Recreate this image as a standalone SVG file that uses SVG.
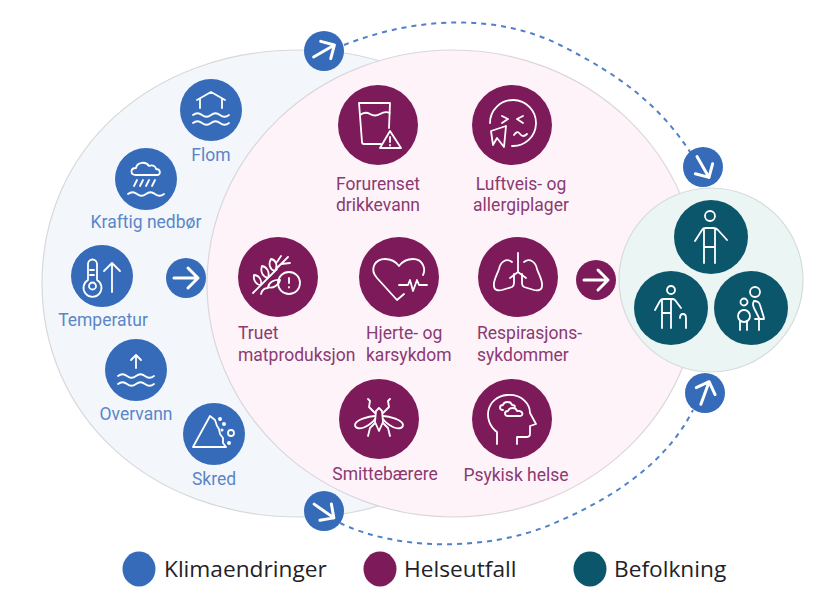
<svg xmlns="http://www.w3.org/2000/svg" width="840" height="600" viewBox="0 0 840 600">
<style>
text{font-family:Roboto,"Liberation Sans",sans-serif}
.lb{font-size:17.500px;fill:#5a86c9;text-anchor:middle}
.lp{font-size:17.500px;fill:#8b3a72}
.m{text-anchor:middle}
.lg{font-size:22.700px;fill:#222228;font-family:"Open Sans","Liberation Sans",sans-serif}
.bl{fill:#356bb8}.pu{fill:#7d1a5a}.te{fill:#0c566b}
.i{fill:none;stroke:#fff;stroke-width:1.800;stroke-linecap:round;stroke-linejoin:round}
.a{fill:none;stroke:#fff;stroke-width:3;stroke-linecap:round;stroke-linejoin:round}
.d{fill:#fff}
.dash{fill:none;stroke:#4f80c8;stroke-width:2;stroke-dasharray:5 5}
</style>
<defs>
<path id="wave" d="M-18 0q4.500-3.500 9 0t9 0t9 0t9 0"/>
<path id="arr" d="M-12 0H12M2-10L12 0L2 10"/>
</defs>
<path d="M42 283C42 150 150 50 300 50C370 50 420 70 460 110L460 460C420 495 370 517 300 517C150 517 42 416 42 283Z" fill="#f3f7fc" stroke="#d8d8da" stroke-width="1.200"/>
<ellipse cx="453" cy="283.500" rx="246" ry="233.500" fill="#fdf3f9" stroke="#dcd6da" stroke-width="1.200"/>
<g id="connectors">
<path class="dash" d="M344 45C420 15 500 15 560 45C620 75 660 105 692 155"/>
<path class="dash" d="M340 523C400 552 490 550 550 525C610 500 665 465 693 410"/>
</g>
<g id="befolkning-bg"><circle cx="711" cy="280" r="92" fill="#ebf5f4" stroke="#d5dcdb" stroke-width="1.200"/></g>

<g id="flom" transform="translate(211,110)"><circle class="bl" r="31"/>
<path class="i" d="M-14-10L0-18L14-10M-11-11V-2M11-11V-2"/><use class="i" href="#wave" y="5"/><use class="i" href="#wave" y="13"/></g>
<text class="lb" x="211" y="161">Flom</text>

<g id="nedbor" transform="translate(146,179)"><circle class="bl" r="31"/>
<path class="i" d="M-10-4C-16-4-16-11-10-11C-9-17 0-18 3-13C7-15 10-12 10-10C15-10 15-4 11-4Z"/><path class="i" d="M-12 7L-9 1M-6 7L-3 1M0 7L3 1M6 7L9 1"/><use class="i" href="#wave" y="15"/></g>
<text class="lb" x="146" y="228">Kraftig nedbør</text>

<g id="temperatur" transform="translate(102,276)"><circle class="bl" r="31"/>
<path class="i" d="M-14 4V-12A4.500 4.500 0 0 1-5-12V4A9 9 0 1 1-14 4Z"/><circle class="i" cx="-9.500" cy="10" r="3.500"/><path class="i" d="M-12-6H-8M-12-1H-8M10 16V-13M2-5L10-13L18-5"/></g>
<text class="lb" x="103" y="326">Temperatur</text>

<g id="pil-1" transform="translate(186,278)"><circle class="bl" r="20"/><use class="a" href="#arr"/></g>

<g id="overvann" transform="translate(136,370)"><circle class="bl" r="31"/>
<path class="i" d="M0-2V-15M-5-10L0-15L5-10"/><use class="i" href="#wave" y="6"/><use class="i" href="#wave" y="14"/></g>
<text class="lb" x="136" y="420">Overvann</text>

<g id="skred" transform="translate(214,434)"><circle class="bl" r="31"/>
<path class="i" d="M-21 13L-4-18L1-14L3-8L5-5L6 0L9 4L9 9L12 13Z"/><circle class="d" cx="6" cy="-15" r="2"/><circle class="d" cx="10" cy="-10" r="2"/><circle class="d" cx="8" cy="-4" r="1.500"/><circle class="i" cx="17" cy="-1" r="3"/><circle class="d" cx="15" cy="9" r="2"/></g>
<text class="lb" x="214" y="485">Skred</text>

<g id="drikkevann" transform="translate(378,125)"><circle class="pu" r="40"/>
<path class="i" d="M-19-22H12L11 3M-19-22L-16 17Q-16 19-14 19H3M-18-10Q-13-14-8-11T2-11T12-12"/><path class="i" d="M12 6L2 23H23Z"/><path class="i" d="M12 12V17M12 20V20.500"/></g>
<text class="lp m" x="378" y="190">Forurenset</text><text class="lp m" x="378" y="211">drikkevann</text>

<g id="luftveis" transform="translate(512,125)"><circle class="pu" r="40"/>
<path class="i" d="M-22-2A23 23 0 1 1 0 21"/><path class="i" d="M-10-9L-4-6L-10-2M11-9L5-6L11-2"/><path class="i" d="M-21 6L-6 1L-8 22L-15 13L-19 20Z"/><path class="i" d="M2 10Q5 5 8 9T15 9"/></g>
<text class="lp m" x="521" y="190">Luftveis- og</text><text class="lp m" x="521" y="211">allergiplager</text>

<g id="matproduksjon" transform="translate(278,277)"><circle class="pu" r="40"/>
<path class="i" d="M-25 16L-1-8M-3-6C-8-7-10-13-7-18C-2-17 0-12-3-6ZM-10 1C-15 0-18-5-16-11C-11-10-8-5-10 1ZM-17 8C-22 8-25 3-24-2C-19-2-16 3-17 8ZM-10 10C-9 5-3 2 2 3C1 8-5 12-10 10ZM-17 17C-16 13-13 11-10 11M-1-9L10-20M3-13L12-14M-1-15L3-21"/><circle class="i" cx="11" cy="6" r="11"/><path class="i" d="M11 1V6M11 10V10.500" stroke-width="2.500"/></g>
<text class="lp" x="238" y="339">Truet</text><text class="lp" x="238" y="361">matproduksjon</text>

<g id="karsykdom" transform="translate(399,277)"><circle class="pu" r="40"/>
<path class="i" d="M-2 23L-22 1C-30-8-24-18-14-18C-8-18-3-15 0-11C3-15 8-18 14-18C24-18 27-8 24-2M-2 23L5 17"/><path class="i" d="M0 8H9L11 3L14 14L18 3L20 8H28"/></g>
<text class="lp" x="366" y="339">Hjerte- og</text><text class="lp" x="366" y="361">karsykdom</text>

<g id="respirasjon" transform="translate(518,277)"><circle class="pu" r="40"/>
<path class="i" d="M0-24V-5M0-5L-8 1M0-5L8 1"/><path class="i" d="M-6-15C-12-20-18-14-19-8C-21-2-25 4-24 9C-24 13-20 14-16 13L-6 10Q-4 9-4 6V-3"/><path class="i" d="M6-15C12-20 18-14 19-8C21-2 25 4 24 9C24 13 20 14 16 13L6 10Q4 9 4 6V-3"/></g>
<text class="lp" x="477" y="339">Respirasjons-</text><text class="lp" x="477" y="361">sykdommer</text>

<g id="pil-2" transform="translate(596,280)"><circle class="pu" r="20"/><use class="a" href="#arr"/></g>

<g id="smittebarere" transform="translate(379,419)"><circle class="pu" r="40"/>
<path class="i" d="M-3-8L0-11L3-8L4 3L0 12L-4 3Z"/><path class="i" d="M-4-6L-10-12L-9-18L-11-20M4-6L10-12L9-18L11-20M-4 4L-9 9L-11 17M4 4L9 9L11 17"/><path class="i" d="M-4-3C-10-3-24 1-24 6C-24 10-18 10-14 8C-10 6-6 3-4 0M4-3C10-3 24 1 24 6C24 10 18 10 14 8C10 6 6 3 4 0"/></g>
<text class="lp m" x="385" y="480">Smittebærere</text>

<g id="psykisk" transform="translate(512,419)"><circle class="pu" r="40"/>
<path class="i" d="M-15 25V13C-30 2-26-22-5-24C11-25 18-14 18-6L24 5L18 7V15Q18 18 14 18H5V25"/><path class="i" d="M-9-9C-13-9-13-14-9-14C-8-18-1-18 0-14C2-14 3-13 3-12M-4-3C-8-3-8-8-4-8C-3-12 4-12 5-8C11-9 12-3 8-3Z"/></g>
<text class="lp m" x="516" y="481">Psykisk helse</text>

<g id="voksen" transform="translate(711,237)"><circle class="te" r="37"/>
<circle class="i" cx="-1" cy="-21" r="5"/><path class="i" d="M-16 4L-9-7Q-8-9-5-9H2Q5-9 7-7L16 3M-7-8V26M4-8V26M-7 10H4"/></g>

<g id="eldre" transform="translate(671,308)"><circle class="te" r="37"/>
<circle class="i" cx="0" cy="-18" r="4"/><path class="i" d="M-16 2L-11-7Q-10-9-7-9H1Q3-9 4-8L10 0M-9-8V20M0-8V20M-9 5H0M15 20V10Q15 6 12 6Q9 6 9 10"/></g>

<g id="familie" transform="translate(751,308)"><circle class="te" r="37"/>
<circle class="i" cx="4" cy="-16" r="5"/><circle class="i" cx="-7" cy="-6" r="3.500"/><circle class="i" cx="-7" cy="8" r="6"/><path class="i" d="M3-7Q8-7 9-3L13 10M3-7Q1-4 3 0T8 10M4 11H13M8 11V22M-11 13V22M-4 13V22"/></g>

<g id="pil-3" transform="translate(324,51)"><circle class="bl" r="20"/><use class="a" href="#arr" transform="rotate(-30)"/></g>
<g id="pil-4" transform="translate(703,167)"><circle class="bl" r="20"/><use class="a" href="#arr" transform="rotate(60)"/></g>
<g id="pil-5" transform="translate(705,393)"><circle class="bl" r="20"/><use class="a" href="#arr" transform="rotate(-70)"/></g>
<g id="pil-6" transform="translate(324,511)"><circle class="bl" r="20"/><use class="a" href="#arr" transform="rotate(35)"/></g>

<g id="legend">
<ellipse class="bl" cx="139" cy="569" rx="16.500" ry="17.500"/><text class="lg" x="164" y="577">Klimaendringer</text>
<ellipse class="pu" cx="380" cy="569" rx="16.500" ry="17.500"/><text class="lg" x="404" y="577">Helseutfall</text>
<ellipse class="te" cx="590" cy="569" rx="16.500" ry="17.500"/><text class="lg" x="614" y="577">Befolkning</text>
</g>
</svg>
